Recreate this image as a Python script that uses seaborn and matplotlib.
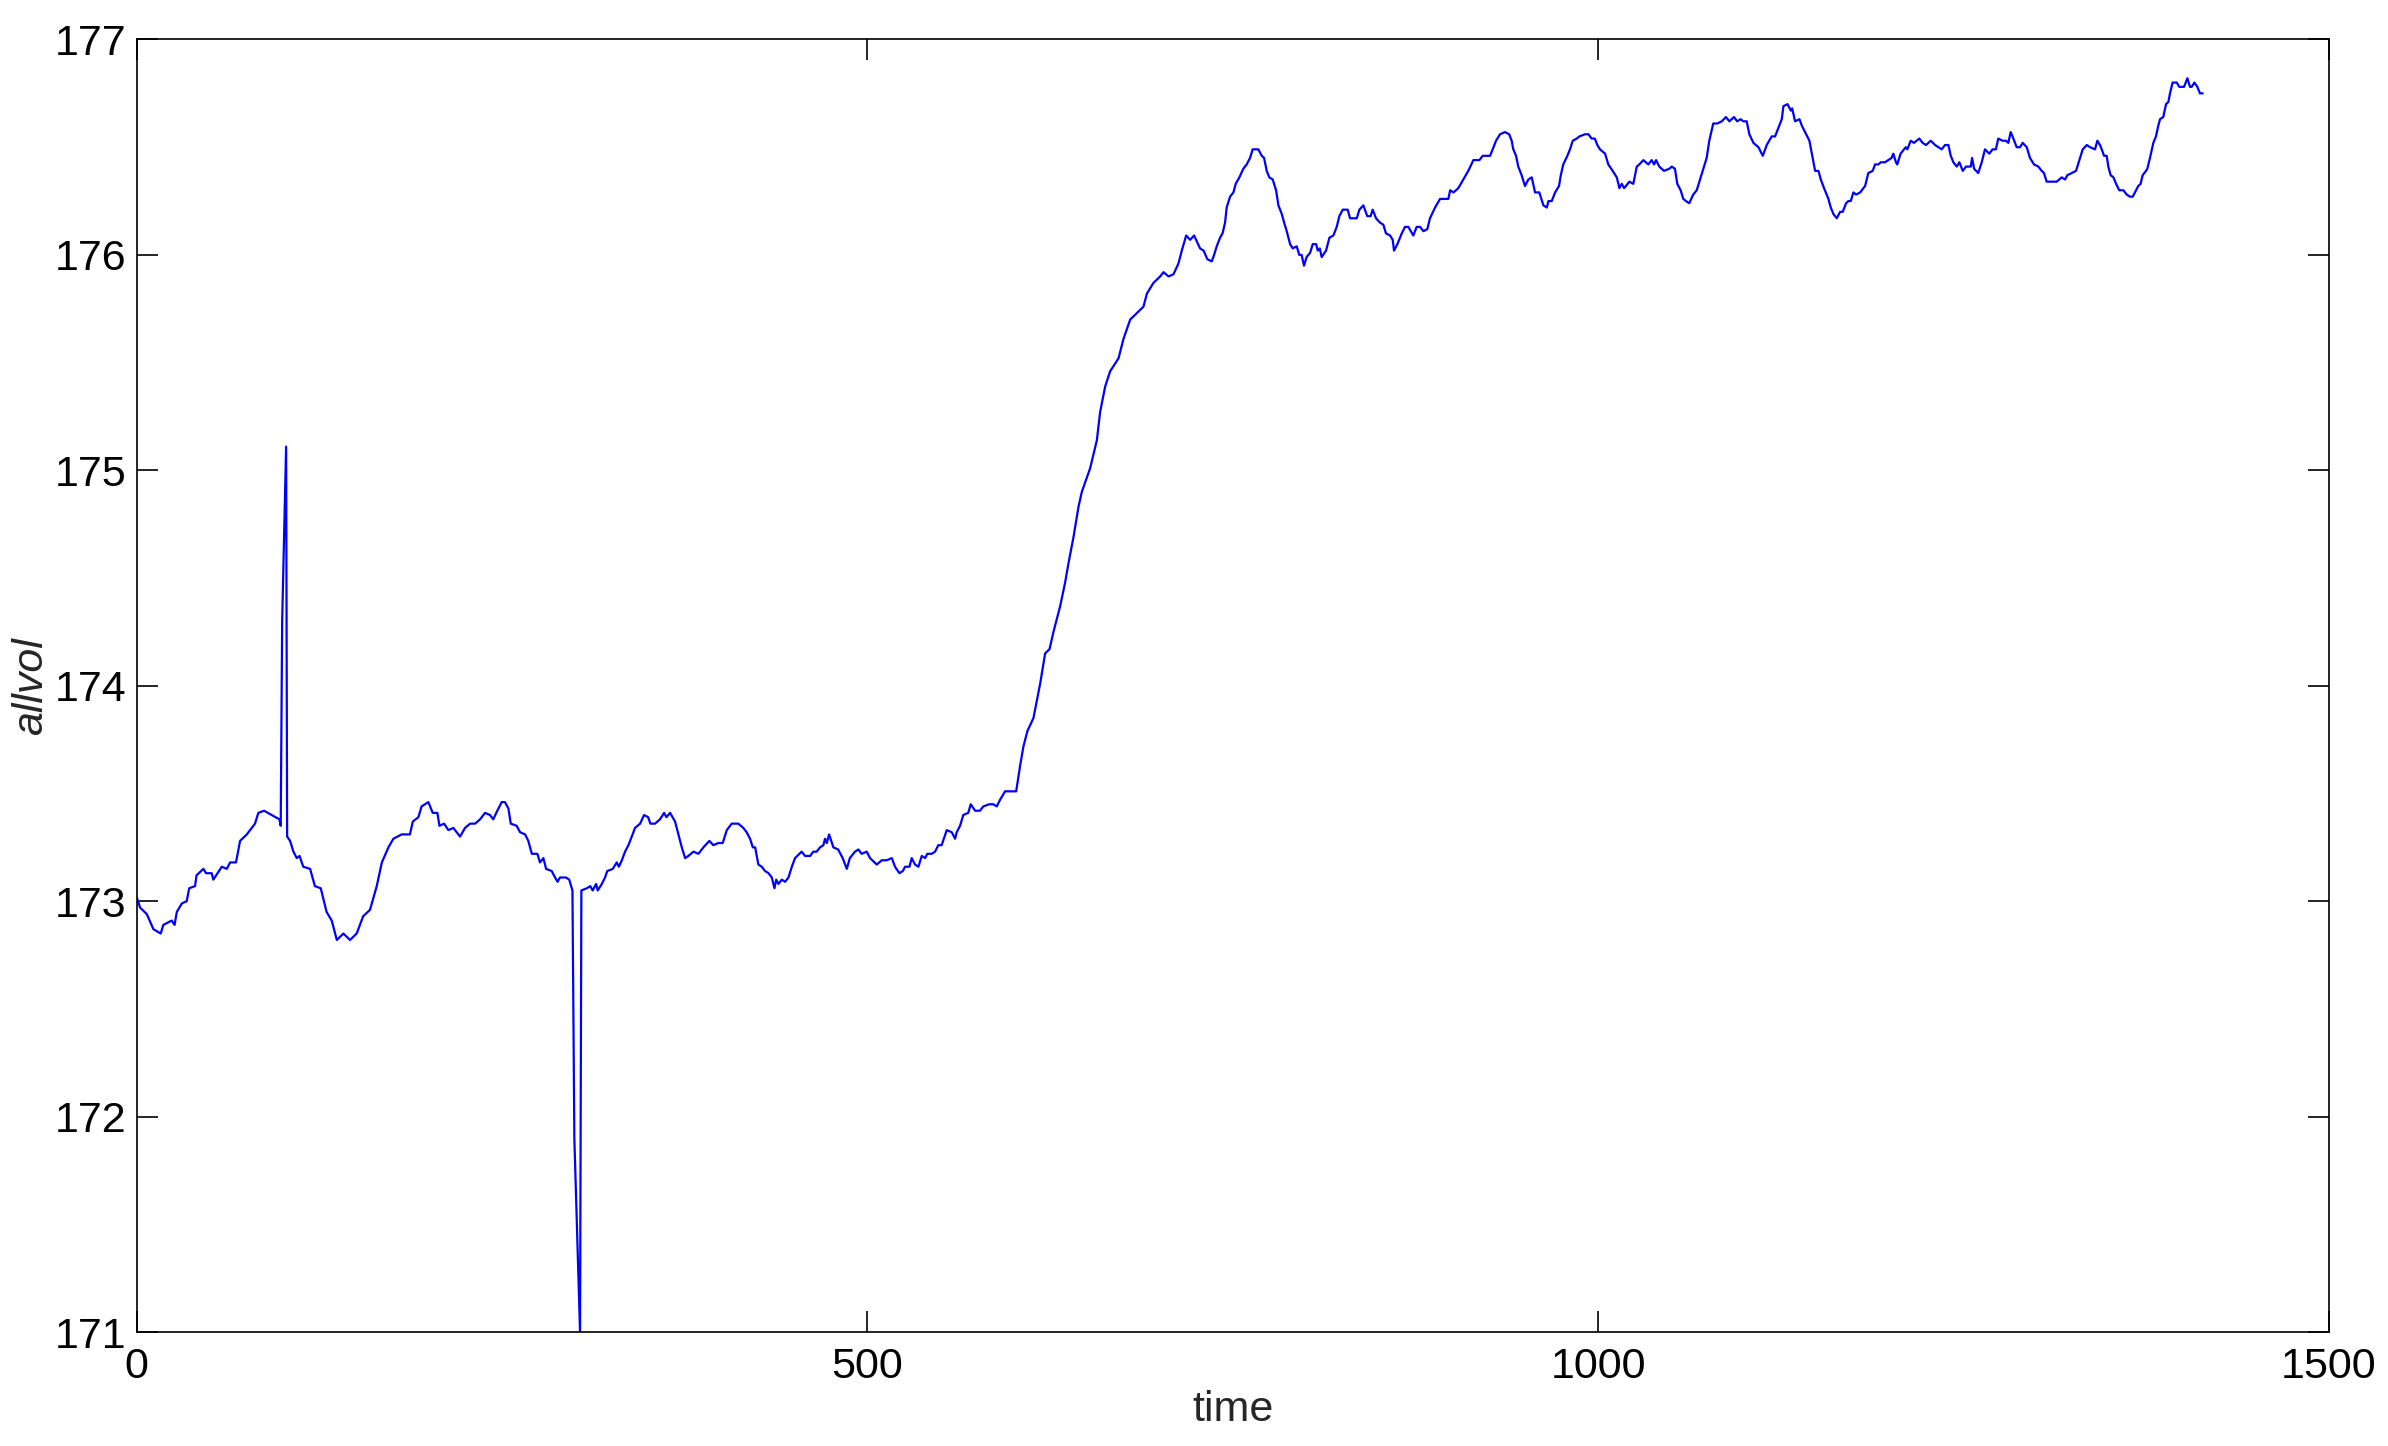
import matplotlib
matplotlib.use("Agg")
import matplotlib.pyplot as plt
import seaborn as sns
import pandas as pd

sns.set_theme(style="ticks")
plt.rcParams['font.family'] = ['Liberation Sans', 'DejaVu Sans']

# (time, allvol), in segments
seg_start = [
    (0, 173.02), (2.4, 172.97), (7, 172.94), (11.5, 172.87), (16.5, 172.85), (18.3, 172.89),
    (24, 172.91), (26, 172.89), (27.5, 172.95), (31, 172.99), (34.3, 173.0), (36, 173.06),
    (40, 173.07), (41, 173.12), (45.7, 173.15), (47.5, 173.13), (51.4, 173.13), (52.5, 173.10),
    (58.3, 173.16), (61.7, 173.15), (64, 173.18), (68, 173.18), (70.8, 173.28), (75.4, 173.31),
    (81, 173.36), (83.3, 173.41), (87.2, 173.42), (92.5, 173.40), (97.7, 173.38), (98.6, 173.35),
    (99.6, 174.3), (102.3, 175.11), (103, 173.30), (105, 173.28), (107.3, 173.23), (109.6, 173.20),
    (111.5, 173.21), (114, 173.16), (118.7, 173.15), (122, 173.07), (126, 173.06), (130, 172.95),
    (133.5, 172.91), (137, 172.82), (141.5, 172.85), (146, 172.82), (150.6, 172.85), (155, 172.93),
    (159.7, 172.96), (164.3, 173.07), (167.8, 173.18), (172.3, 173.25), (175.7, 173.29),
    (181.4, 173.31), (187, 173.31), (189, 173.37), (192.8, 173.39), (195, 173.44), (199.6, 173.46),
]

seg_dip = [
    (202.6, 173.41), (205.8, 173.41), (207.2, 173.35), (210.4, 173.36), (213.3, 173.33),
    (216.7, 173.34), (221.3, 173.30), (224.7, 173.34), (228.2, 173.36), (231.6, 173.36),
    (235, 173.38), (238.4, 173.41), (241.8, 173.40), (244, 173.38), (246.8, 173.42),
    (249.8, 173.46), (252, 173.46), (254.4, 173.43), (256, 173.36), (260, 173.35),
    (262.4, 173.32), (265.8, 173.31), (268, 173.28), (270.4, 173.22), (274.2, 173.22),
    (276, 173.18), (278.3, 173.20), (280.2, 173.15), (284, 173.14), (286.3, 173.11),
    (288, 173.09), (289.7, 173.11), (293.8, 173.11), (296, 173.10), (297.7, 173.06),
    (298.2, 173.05), (299.5, 171.9), (303.4, 171.0), (304.3, 173.05), (308, 173.06),
    (310.4, 173.07), (312, 173.05), (314.4, 173.08), (315.5, 173.05), (318.3, 173.08),
    (320.5, 173.11), (322, 173.14), (325.8, 173.15), (328.5, 173.18), (330, 173.16),
    (332, 173.19), (334.2, 173.23), (336.5, 173.26), (338.8, 173.30), (341, 173.34),
    (344.5, 173.36), (347.2, 173.40), (350, 173.39), (351.5, 173.36), (354.7, 173.36),
    (358.1, 173.38), (360.9, 173.41), (362.5, 173.39), (365, 173.41), (368.4, 173.37),
    (370.7, 173.31), (373, 173.25), (375.3, 173.20), (377.5, 173.21), (381, 173.23),
    (384.4, 173.22), (387.8, 173.25), (391.9, 173.28), (394.6, 173.26), (398, 173.27),
]

seg_flat = [
    (401, 173.27), (403.8, 173.33), (407.2, 173.36), (411.7, 173.36), (415.1, 173.34),
    (417.4, 173.32), (419.7, 173.29), (421.6, 173.25), (423.2, 173.25), (425.4, 173.17),
    (427.7, 173.16), (430, 173.14), (432.3, 173.13), (434.6, 173.11), (436.4, 173.06),
    (437.6, 173.10), (439.1, 173.08), (441.4, 173.10), (443.7, 173.09), (446, 173.11),
    (448.3, 173.16), (450.5, 173.20), (455, 173.23), (457.4, 173.21), (460.8, 173.21),
    (463, 173.23), (465.3, 173.23), (467.6, 173.25), (469.9, 173.26), (471, 173.29),
    (472.2, 173.27), (473.8, 173.31), (476.7, 173.25), (480, 173.24), (483.1, 173.20),
    (485.9, 173.15), (488, 173.20), (491.5, 173.23), (493.8, 173.24), (496.1, 173.22),
    (499.5, 173.23), (501.8, 173.20), (506.4, 173.17), (509.8, 173.19), (513.2, 173.19),
    (516.7, 173.20), (518.9, 173.16), (521.9, 173.13), (524.2, 173.14), (525.8, 173.16),
    (528.8, 173.16), (530.3, 173.20), (532.6, 173.17), (534.9, 173.16), (537.2, 173.21),
    (539.5, 173.20), (541, 173.22), (544, 173.22), (546.3, 173.23), (548.5, 173.26),
    (550.8, 173.26), (554.3, 173.33), (557.7, 173.32), (560, 173.29), (561.1, 173.32),
    (563.4, 173.35), (565.6, 173.40), (569, 173.41), (570.7, 173.45), (573.7, 173.42),
    (577, 173.42), (579.3, 173.44), (583.4, 173.45), (586.1, 173.45), (588.5, 173.44),
    (590.7, 173.47), (594.2, 173.51), (597.1, 173.51),
]

seg_rise = [
    (601.8, 173.51), (604.5, 173.63), (606.8, 173.72), (609.5, 173.79), (613.6, 173.85),
    (618.2, 174.01), (621.6, 174.15), (624.6, 174.17), (627.3, 174.25), (631.9, 174.37),
    (635.3, 174.48), (637.6, 174.57), (641, 174.69), (644.4, 174.83), (646.7, 174.90),
    (652.4, 175.01), (657, 175.14), (659.2, 175.27), (662.7, 175.39), (666.1, 175.46),
    (671.8, 175.52), (675.2, 175.61), (679.8, 175.70), (684.3, 175.73), (688.9, 175.76),
    (691.2, 175.82), (695.7, 175.87), (700.3, 175.90), (702.6, 175.92), (706, 175.90),
    (709.4, 175.91), (712.8, 175.96), (715.1, 176.02), (718.1, 176.09), (720.8, 176.07),
    (723.5, 176.09),
]

seg_high_a = [
    (727.6, 176.03), (730, 176.02), (732.6, 175.98), (735.6, 175.97), (737.2, 176.0),
    (739, 176.04), (741.3, 176.08), (743, 176.10), (744.7, 176.15), (745.8, 176.22),
    (748.1, 176.27), (750.4, 176.29), (752, 176.33), (754.5, 176.36), (757.2, 176.40),
    (759.5, 176.42), (761.8, 176.45), (763.6, 176.49), (767.5, 176.49), (769.8, 176.46),
    (771.4, 176.45), (773.2, 176.39), (775, 176.36), (777.3, 176.35), (779.6, 176.30),
    (781.2, 176.23), (783.5, 176.19), (785.1, 176.15), (786.9, 176.11), (789.2, 176.05),
    (791, 176.03), (793.7, 176.04), (795.5, 176.00), (797.1, 176.0), (798.7, 175.95),
    (800.5, 175.99), (802.9, 176.01), (804.7, 176.05), (807, 176.05), (808.1, 176.02),
    (809.5, 176.03), (810.8, 175.99), (813.8, 176.02), (816.1, 176.08), (818.8, 176.09),
    (821.1, 176.13), (822.9, 176.18), (825.2, 176.21), (828.6, 176.21), (830.2, 176.17),
    (834.8, 176.17), (836.6, 176.21), (839.3, 176.23), (842, 176.18), (844.3, 176.18),
    (845.7, 176.21), (848, 176.17), (850.7, 176.15), (853, 176.14), (854.8, 176.10),
    (857.6, 176.09), (859.4, 176.07), (860.3, 176.02), (862.6, 176.05), (865.6, 176.10),
    (867.8, 176.13), (870.1, 176.13), (873.5, 176.09), (875.8, 176.13), (878.1, 176.13),
    (880.4, 176.11), (883.1, 176.12), (884.9, 176.17), (888.4, 176.22), (891.8, 176.26),
    (897.5, 176.26), (898.7, 176.30), (901, 176.29), (904.3, 176.31), (907.7, 176.35),
    (911.1, 176.39), (914.6, 176.44), (918.7, 176.44), (921, 176.46), (926, 176.46),
    (927.8, 176.49), (930.1, 176.53), (932.8, 176.56), (936.2, 176.57), (939.1, 176.56),
    (940.8, 176.53), (941.9, 176.49), (943.8, 176.46), (945.3, 176.41), (947.6, 176.37),
    (949.9, 176.32), (952.2, 176.35), (954.5, 176.36), (956.8, 176.29), (959.7, 176.29),
    (962.5, 176.23), (964.8, 176.22), (966, 176.25), (968.2, 176.25), (970.5, 176.29),
    (973.2, 176.32), (974.4, 176.37), (976.1, 176.42), (978.9, 176.46), (980.7, 176.49),
    (982.6, 176.53), (985.3, 176.54), (987.1, 176.55), (991, 176.56), (993.3, 176.56),
    (995.5, 176.54), (997.7, 176.54), (999.4, 176.51),
]

seg_high_b = [
    (1001.2, 176.49), (1004.7, 176.47), (1006.9, 176.42), (1009.9, 176.39), (1012.7, 176.36),
    (1014.5, 176.31), (1016.1, 176.33), (1017.7, 176.31), (1019, 176.32), (1021.3, 176.34),
    (1024, 176.33), (1026.4, 176.41), (1028.1, 176.42), (1030.9, 176.44), (1034.3, 176.42),
    (1036.6, 176.44), (1038.2, 176.42), (1039.6, 176.44), (1041.8, 176.41), (1045, 176.39),
    (1048.7, 176.40), (1050.3, 176.41), (1052.5, 176.40), (1054.1, 176.33), (1056.4, 176.30),
    (1058.2, 176.26), (1060, 176.25), (1062.3, 176.24), (1065, 176.28), (1067.4, 176.30),
    (1070.1, 176.36), (1072.4, 176.41), (1074.2, 176.45), (1076, 176.53), (1078.7, 176.61),
    (1081.5, 176.61), (1084.5, 176.62), (1087.4, 176.64), (1089.7, 176.62), (1092.9, 176.64),
    (1095.1, 176.62), (1097.4, 176.63), (1099.3, 176.62), (1101.6, 176.62), (1103.4, 176.56),
    (1106.2, 176.52), (1109.6, 176.50), (1112.6, 176.46), (1115.3, 176.51), (1118.7, 176.55),
    (1121, 176.55), (1123.3, 176.59), (1125.6, 176.63), (1126.7, 176.69), (1129.5, 176.70),
    (1131.8, 176.67), (1132.7, 176.68), (1134.7, 176.62), (1137.7, 176.63), (1139.3, 176.60),
    (1142.3, 176.56), (1144.5, 176.53), (1146.2, 176.47), (1148.4, 176.39), (1150.7, 176.39),
    (1152.3, 176.35), (1154.5, 176.31), (1157.5, 176.26), (1159.1, 176.22), (1160.9, 176.19),
    (1163.2, 176.17), (1165.5, 176.20), (1167.3, 176.20), (1169.6, 176.24), (1171.2, 176.25),
    (1172.8, 176.25), (1174.6, 176.29), (1176.4, 176.28), (1179.2, 176.29), (1182.6, 176.32),
    (1184.8, 176.38), (1187.8, 176.39), (1189.4, 176.42), (1191.7, 176.42), (1193.3, 176.43),
    (1196.2, 176.43), (1198.5, 176.44), (1200.7, 176.45),
]

seg_end = [
    (1201.9, 176.47), (1203.7, 176.43), (1204.6, 176.42), (1206.9, 176.47), (1209.2, 176.49),
    (1210.5, 176.50), (1211.5, 176.49), (1213.8, 176.53), (1216, 176.52), (1217.8, 176.53),
    (1219.7, 176.54), (1222, 176.52), (1224.3, 176.51), (1225.9, 176.52), (1227.5, 176.53),
    (1230.5, 176.51), (1232.7, 176.50), (1235, 176.49), (1237.3, 176.51), (1239.6, 176.51),
    (1241.2, 176.46), (1243, 176.43), (1245.3, 176.41), (1247.1, 176.43), (1249.4, 176.39),
    (1251.7, 176.41), (1254.9, 176.41), (1255.8, 176.45), (1257.2, 176.40), (1260, 176.38),
    (1262.4, 176.43), (1264.6, 176.49), (1267.6, 176.47), (1269.8, 176.49), (1272.1, 176.49),
    (1273.7, 176.54), (1276.7, 176.53), (1279, 176.53), (1280.6, 176.52), (1282.2, 176.57),
    (1283.5, 176.55), (1286.3, 176.50), (1288.6, 176.50), (1290.4, 176.52), (1293.2, 176.50),
    (1295.4, 176.45), (1298.2, 176.42), (1301.1, 176.41), (1303.4, 176.39), (1305, 176.38),
    (1306.8, 176.34), (1310.3, 176.34), (1313.7, 176.34), (1317.1, 176.36), (1319.4, 176.35),
    (1321, 176.37), (1324, 176.38), (1326.9, 176.39), (1329.2, 176.44), (1331.5, 176.49),
    (1334.3, 176.51), (1336.5, 176.50), (1339.9, 176.49), (1341.5, 176.53), (1343.3, 176.51),
    (1344.5, 176.49), (1346.1, 176.46), (1347.9, 176.46), (1349, 176.41), (1350.6, 176.37),
    (1352.5, 176.36), (1354.3, 176.33), (1356.5, 176.30), (1359.3, 176.30), (1361.6, 176.28),
    (1363.9, 176.27), (1365.7, 176.27), (1368, 176.30), (1369.5, 176.32), (1371.1, 176.33),
    (1372.5, 176.37), (1374.8, 176.39), (1375.7, 176.40), (1377.5, 176.45), (1379.8, 176.52),
    (1381.6, 176.55), (1383.2, 176.60), (1384.4, 176.63), (1386.6, 176.64), (1388.5, 176.70),
    (1390.1, 176.71), (1391.2, 176.75), (1393, 176.80), (1395.8, 176.80), (1397.6, 176.78),
    (1400.8, 176.78), (1403.1, 176.82), (1404.9, 176.78), (1406, 176.78), (1407.9, 176.80),
    (1409.9, 176.78), (1411.7, 176.75), (1413.6, 176.75),
]

x_ticks = [0, 500, 1000, 1500]
y_ticks = [171, 172, 173, 174, 175, 176, 177]

pairs = seg_start + seg_dip + seg_flat + seg_rise + seg_high_a + seg_high_b + seg_end
df = pd.DataFrame(pairs, columns=["time", "allvol"])

FS = 15.5

fig = plt.figure(figsize=(11.94, 7.23), dpi=200)
ax = fig.add_axes([0.0572, 0.0788, 0.9181, 0.8939])
sns.lineplot(data=df, x="time", y="allvol", ax=ax, color="#0000ff",
             linewidth=0.8, sort=False, estimator=None)

ax.set_xlim(0, 1500)
ax.set_ylim(171, 177)
ax.set_xticks(x_ticks)
ax.set_yticks(y_ticks)
ax.set_xticklabels([str(v) for v in x_ticks])
ax.set_yticklabels([str(v) for v in y_ticks])
ax.tick_params(direction="in", length=7.5, width=0.6, top=True, right=True,
               labelsize=FS, colors="black")
ax.tick_params(axis="y", pad=3.5)
ax.tick_params(axis="x", pad=5.5)
for s in ax.spines.values():
    s.set_visible(True)
    s.set_linewidth(0.6)
    s.set_color("black")

ax.set_xlabel("time", fontsize=FS)
ax.set_ylabel("allvol", fontsize=FS, fontstyle="italic")
ax.xaxis.set_label_coords(0.5, -0.045)
ax.yaxis.set_label_coords(-0.039, 0.5)

fig.savefig("out.png", dpi=200, facecolor="white")
